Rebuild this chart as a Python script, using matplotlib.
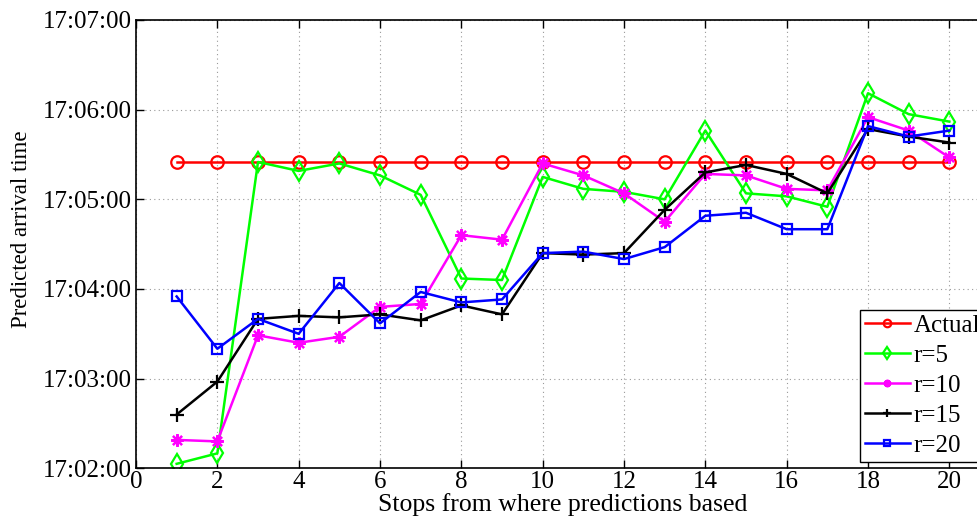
import matplotlib
matplotlib.use("Agg")
import matplotlib.pyplot as plt
import matplotlib.ticker as ticker

stops = list(range(1, 21))

actual = ["17:05:25"] * 20
r5 = ["17:02:03", "17:02:10", "17:05:25", "17:05:19", "17:05:24", "17:05:16", "17:05:03",
      "17:04:07", "17:04:06", "17:05:15", "17:05:07", "17:05:05", "17:05:00", "17:05:46",
      "17:05:04", "17:05:02", "17:04:55", "17:06:11", "17:05:57", "17:05:52"]
r10 = ["17:02:19", "17:02:18", "17:03:29", "17:03:24", "17:03:28", "17:03:48", "17:03:50",
       "17:04:36", "17:04:33", "17:05:24", "17:05:16", "17:05:04", "17:04:45", "17:05:17",
       "17:05:16", "17:05:07", "17:05:06", "17:05:55", "17:05:46", "17:05:28"]
r15 = ["17:02:36", "17:02:58", "17:03:40", "17:03:42", "17:03:41", "17:03:43", "17:03:39",
       "17:03:49", "17:03:43", "17:04:24", "17:04:23", "17:04:24", "17:04:53", "17:05:18",
       "17:05:23", "17:05:17", "17:05:04", "17:05:47", "17:05:42", "17:05:38"]
r20 = ["17:03:55", "17:03:20", "17:03:40", "17:03:30", "17:04:04", "17:03:37", "17:03:58",
       "17:03:51", "17:03:53", "17:04:24", "17:04:25", "17:04:20", "17:04:28", "17:04:49",
       "17:04:51", "17:04:40", "17:04:40", "17:05:49", "17:05:42", "17:05:46"]

y_ticks = ["17:02:00", "17:03:00", "17:04:00", "17:05:00", "17:06:00", "17:07:00"]


def to_sec(t):
    h, m, s = t.split(":")
    return int(h) * 3600 + int(m) * 60 + int(s)


def fmt_time(x, _):
    x = int(round(x))
    return f"{x // 3600}:{(x % 3600) // 60:02d}:{x % 60:02d}"


plt.rcParams['font.family'] = ['Liberation Serif', 'DejaVu Serif']

fig = plt.figure(figsize=(9.78, 5.24), dpi=100)
ax = fig.add_axes([136 / 978, 55.7 / 524, 854 / 978, 448.3 / 524])

series = [
    ("Actual", actual, 'r', 'o', 9),
    ("r=5", r5, (0, 1, 0), 'd', 10),
    ("r=10", r10, (1, 0, 1), (8, 2, 0), 9),
    ("r=15", r15, 'k', '+', 10),
    ("r=20", r20, 'b', 's', 7),
]
for label, vals, color, marker, ms in series:
    ax.plot(stops, [to_sec(v) for v in vals], color=color, marker=marker, markersize=ms,
            markerfacecolor='none', markeredgewidth=1.6, linewidth=1.8, label=label)

ax.set_xlim(0, 21)
ax.set_ylim(to_sec(y_ticks[0]), to_sec(y_ticks[-1]))
ax.set_xticks(range(0, 21, 2))
ax.set_yticks([to_sec(t) for t in y_ticks])
ax.yaxis.set_major_formatter(ticker.FuncFormatter(fmt_time))
ax.tick_params(direction='in', top=True, right=True, length=6, width=1, labelsize=18, pad=2)
ax.tick_params(axis='y', pad=3)
ax.grid(True, linestyle=(0, (1, 3)), color='#999999', linewidth=0.8)
for sp in ax.spines.values():
    sp.set_linewidth(1.2)

ax.set_xlabel('Stops from where predictions based', fontsize=18.5, labelpad=0)
ax.set_ylabel('Predicted arrival time', fontsize=16.4)
ax.yaxis.set_label_coords(-0.122, 0.534)

leg = ax.legend(loc='lower right', bbox_to_anchor=(0.994, 0.014), borderaxespad=0,
                fontsize=18, fancybox=False, edgecolor='k', framealpha=1, markerscale=0.6,
                handlelength=1.8, handletextpad=0.15, labelspacing=0.3, borderpad=0.2)
leg.get_frame().set_linewidth(1.0)

fig.savefig("out.png", dpi=100)
